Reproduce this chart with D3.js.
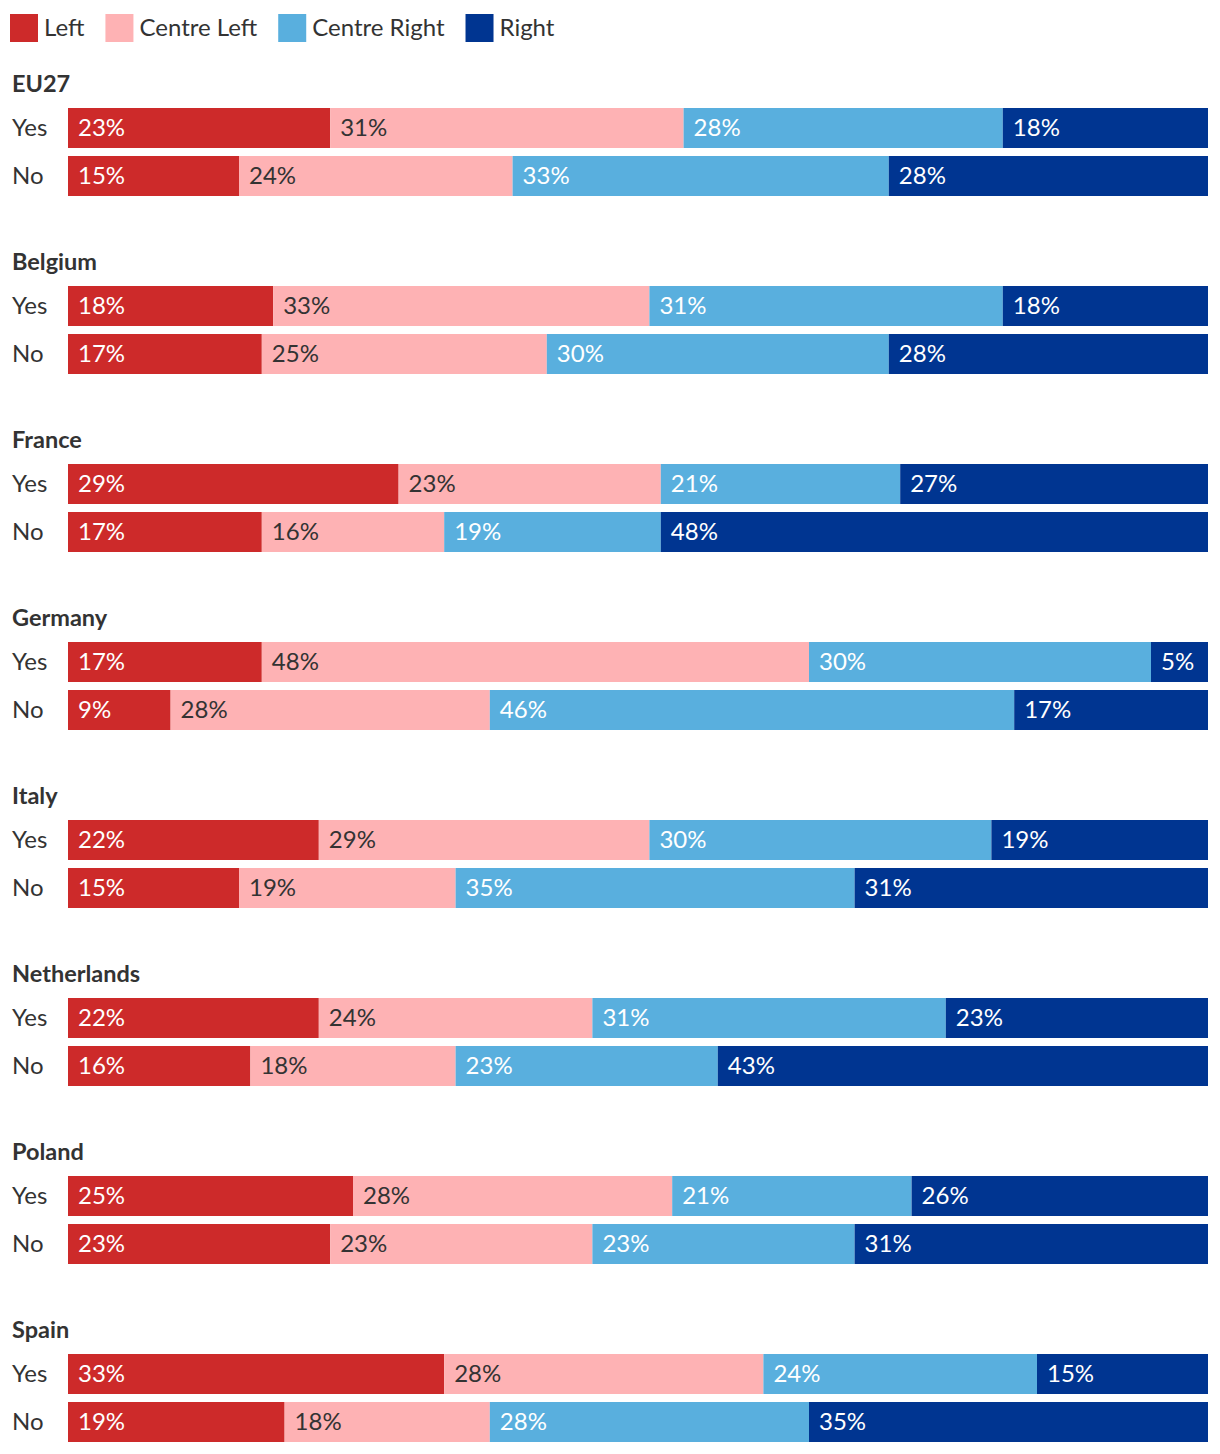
<!DOCTYPE html>
<html><head><meta charset="utf-8">
<script src="https://cdn.jsdelivr.net/npm/d3@7"></script>
<style>body{margin:0;background:#fff}svg{display:block}text{font-family:Lato,"Noto Sans",sans-serif}</style>
</head><body><svg id="c" width="1220" height="1454"></svg>
<script>
const seriesNames = ["Left","Centre Left","Centre Right","Right"];
const seriesColors = ["#cd2a2a","#feb2b4","#59afde","#003591"];
const labelColors = ["#ffffff","#333333","#ffffff","#ffffff"];
const countries = ["EU27","Belgium","France","Germany","Italy","Netherlands","Poland","Spain"];
const answers = ["Yes","No"];
const leftYes = [23,18,29,17,22,22,25,33];
const centreLeftYes = [31,33,23,48,29,24,28,28];
const centreRightYes = [28,31,21,30,30,31,21,24];
const rightYes = [18,18,27,5,19,23,26,15];
const leftNo = [15,17,17,9,15,16,23,19];
const centreLeftNo = [24,25,16,28,19,18,23,18];
const centreRightNo = [33,30,19,46,35,23,23,28];
const rightNo = [28,28,48,17,31,43,31,35];

const rows = [];
countries.forEach((c,i)=>{
  rows.push({country:c, answer:"Yes", vals:[leftYes[i],centreLeftYes[i],centreRightYes[i],rightYes[i]]});
  rows.push({country:c, answer:"No", vals:[leftNo[i],centreLeftNo[i],centreRightNo[i],rightNo[i]]});
});

const svg = d3.select("#c");
const x = d3.scaleLinear().domain([0,100]).range([68,1208]);
const gy = d3.scaleBand().domain(countries).range([70,70+178*8]);
const iy = d3.scaleBand().domain(answers).range([38,126]).paddingInner(1/6).paddingOuter(0);

// legend
const leg = svg.append("g");
let lx = 10;
seriesNames.forEach((s,i)=>{
  leg.append("rect").attr("x",lx).attr("y",14).attr("width",28).attr("height",28).attr("fill",seriesColors[i]);
  const t = leg.append("text").attr("x",lx+34).attr("y",36).attr("font-size",24).attr("fill","#333").text(s);
  lx += 34 + t.node().getComputedTextLength() + 21;
});

const groups = svg.selectAll("g.grp").data(countries).join("g").attr("class","grp")
  .attr("transform",d=>`translate(0,${gy(d)})`);
groups.append("text").attr("x",12).attr("y",21.5).attr("font-size",23.5).attr("font-weight",700).attr("fill","#333").text(d=>d);

rows.forEach(r=>{
  const g = svg.append("g").attr("transform",`translate(0,${gy(r.country)+iy(r.answer)})`);
  const h = iy.bandwidth();
  g.append("text").attr("x",12).attr("y",h/2).attr("dy","0.35em").attr("font-size",24).attr("fill","#333").text(r.answer);
  let cum = 0;
  r.vals.forEach((v,k)=>{
    const x0 = x(cum), x1 = x(cum+v);
    g.append("rect").attr("x",x0).attr("y",0).attr("width",x1-x0).attr("height",h).attr("fill",seriesColors[k]);
    g.append("text").attr("x",x0+10).attr("y",h/2).attr("dy","0.35em").attr("font-size",24).attr("fill",labelColors[k]).text(v+"%");
    cum += v;
  });
});
</script></body></html>
